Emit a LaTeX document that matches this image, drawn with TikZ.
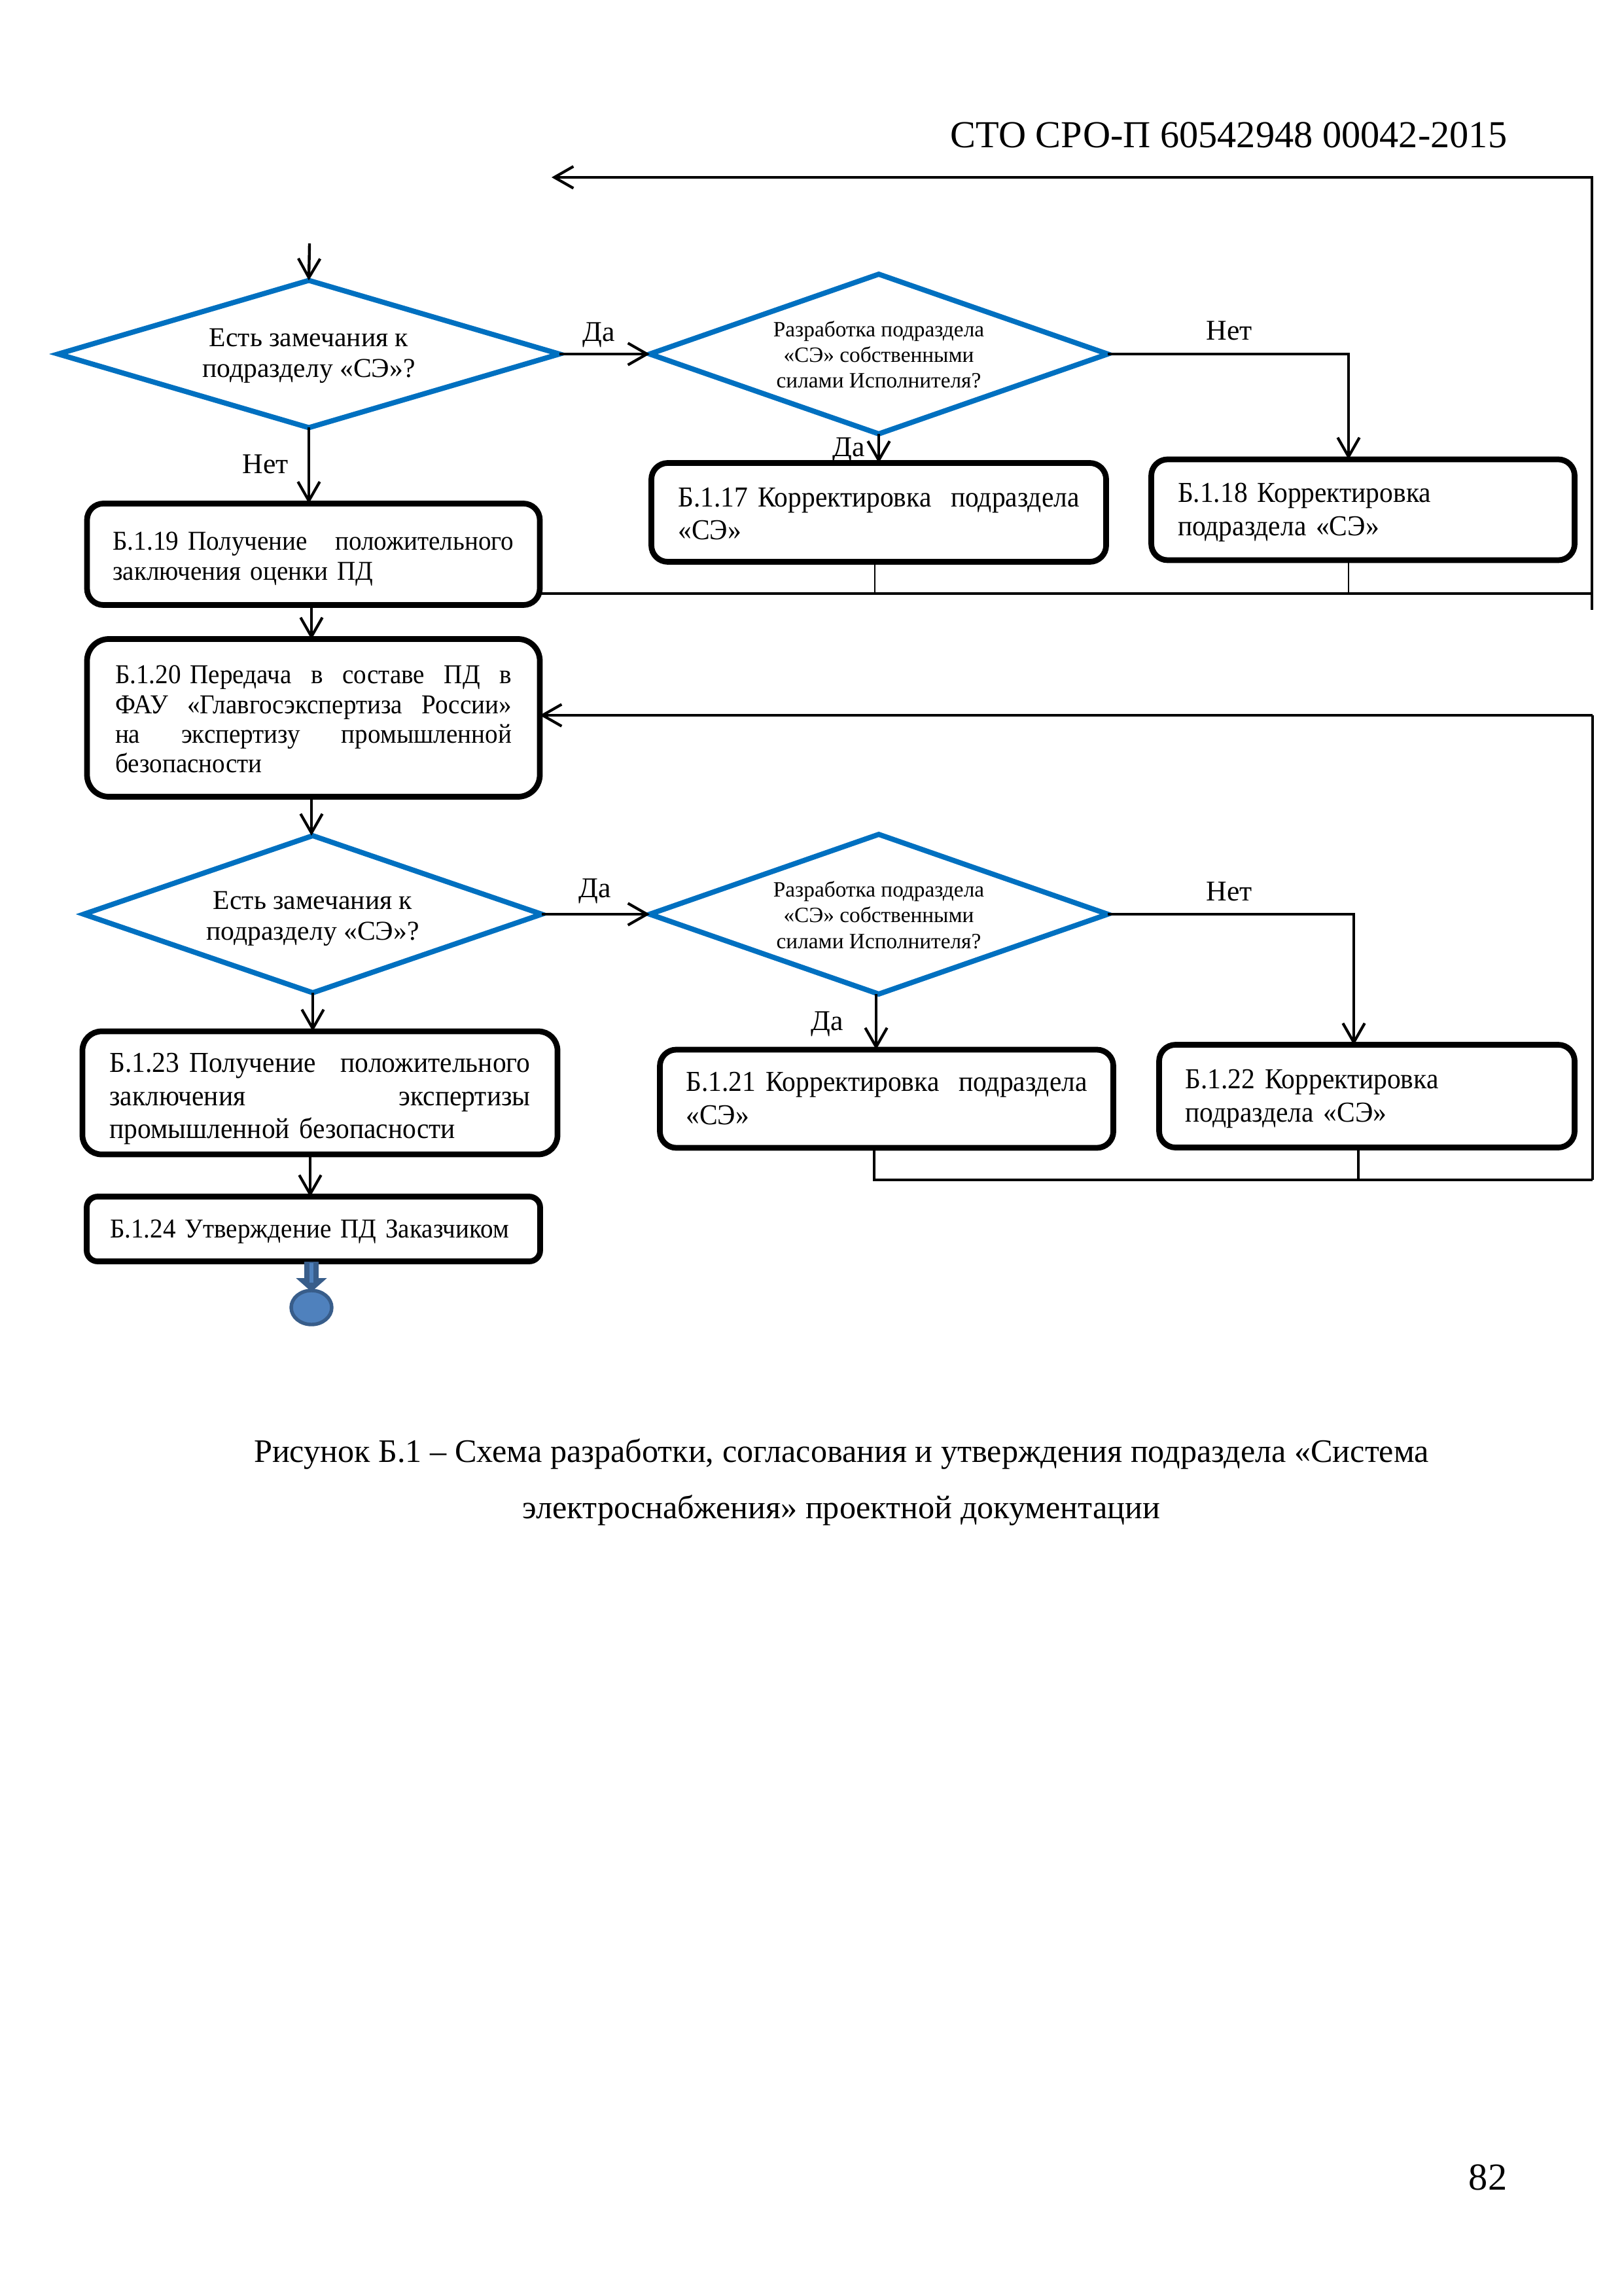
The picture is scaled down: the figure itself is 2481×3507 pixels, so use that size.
\documentclass[tikz,border=0pt]{standalone}
\usepackage{fontspec}
\setmainfont{Liberation Serif}
\newfontfamily\condfont[FakeStretch=0.94]{Liberation Serif}
\usetikzlibrary{shapes.geometric,arrows.meta}
% one stretched line of box text
\newcommand{\jl}[1]{\leavevmode\hbox to\linewidth{#1}}
% box text set a little below the centre of its box
\newcommand{\lowered}[2]{\raisebox{-#1}[\height][\depth]{\parbox{\linewidth}{#2}}}
% text of a decision shape, taking no room so the shape keeps its set size
\newcommand{\dtext}[2][3.2pt]{\makebox[0pt]{\smash{\raisebox{-#1}{\begin{tabular}[c]{@{}c@{}}#2\end{tabular}}}}}
\definecolor{decblue}{HTML}{0070C0}
\definecolor{endfill}{HTML}{4F81BD}
\definecolor{endline}{HTML}{385D8A}
\tikzset{
  barbtip/.tip={Straight Barb[length=7pt,width=8pt,line width=1pt]},
  procbox/.style={draw=black,fill=white,line width=2.1pt,rounded corners=6pt,outer sep=0pt,inner sep=0pt,align=left},
  decision/.style={shape=diamond,draw=decblue,fill=white,line width=1.9pt,outer sep=0pt,inner sep=0pt,align=center},
  conn/.style={draw=black,line width=1.05pt,-barbtip},
  thinline/.style={draw=black,line width=0.6pt},
  midline/.style={draw=black,line width=0.8pt},
  tag/.style={font=\fontsize{10.5}{12}\selectfont,inner sep=0pt},
  bigq/.style={font=\fontsize{10}{11.3}\selectfont},
  small/.style={font=\fontsize{8}{9.4}\selectfont},
  boxten/.style={font=\condfont\fontsize{10}{11.2}\selectfont},
  boxeleven/.style={font=\condfont\fontsize{10.6}{12.2}\selectfont},
  page/.style={font=\fontsize{14}{16}\selectfont,inner sep=0pt},
  capt/.style={font=\fontsize{12.05}{14}\selectfont,inner sep=0pt},
}
\begin{document}
\begin{tikzpicture}[x=0.24pt,y=-0.24pt]
\useasboundingbox (0,0) rectangle (2481,3507);
\fill[white] (0,0) rectangle (2481,3507);

% running head, caption, page number
\node[page,anchor=east] (head) at (2304,206) {СТО СРО-П 60542948 00042-2015};
\node[capt] (cap1) at (1286,2222) {Рисунок Б.1 – Схема разработки, согласования и утверждения подраздела «Система};
\node[capt] (cap2) at (1286,2308) {электроснабжения» проектной документации};
\node[page,anchor=east] (pageno) at (2304,3327) {82};

% branch labels
\node[tag] (da1) at (915,512) {Да};
\node[tag] (net1) at (1879,505) {Нет};
\node[tag] (net2) at (406,709) {Нет};
\node[tag] (da2) at (1297,688) {Да};
\node[tag] (da3) at (909,1362) {Да};
\node[tag] (net3) at (1879,1362) {Нет};
\node[tag] (da4) at (1264,1565) {Да};

% decisions
\node[decision,minimum width=0.24*766pt,minimum height=0.24*225pt,bigq] (d1) at (472,541)
  {\dtext[3.2pt]{Есть замечания к\\подразделу «СЭ»?}};
\node[decision,minimum width=0.24*700pt,minimum height=0.24*244pt,small] (d2) at (1343,541)
  {\dtext{Разработка подраздела\\«СЭ» собственными\\силами Исполнителя?}};
\node[decision,minimum width=0.24*700pt,minimum height=0.24*240pt,bigq] (d3) at (478,1397)
  {\dtext[4.1pt]{Есть замечания к\\подразделу «СЭ»?}};
\node[decision,minimum width=0.24*700pt,minimum height=0.24*244pt,small] (d4) at (1343,1397)
  {\dtext{Разработка подраздела\\«СЭ» собственными\\силами Исполнителя?}};

% process boxes
\node[procbox,boxten,minimum width=0.24*692pt,minimum height=0.24*155pt,text width=0.24*613pt] (b19) at (479,847)
  {\lowered{1.7pt}{\jl{Б.1.19 Получение\hfill положительного}\\заключения оценки ПД}};
\node[procbox,boxten,rounded corners=8pt,minimum width=0.24*692pt,minimum height=0.24*241pt,text width=0.24*606pt,font=\condfont\fontsize{10}{10.9}\selectfont] (b20) at (479,1097)
  {\lowered{0.5pt}{\jl{Б.1.20 Передача\hfill в\hfill составе\hfill ПД\hfill в}\\\jl{ФАУ\hfill «Главгосэкспертиза\hfill России»}\\\jl{на\hfill экспертизу\hfill промышленной}\\безопасности}};
\node[procbox,boxeleven,minimum width=0.24*695pt,minimum height=0.24*151pt,text width=0.24*613pt] (b17) at (1343,783)
  {\lowered{0.5pt}{\jl{Б.1.17 Корректировка\hfill подраздела}\\«СЭ»}};
\node[procbox,boxeleven,minimum width=0.24*647pt,minimum height=0.24*154pt,text width=0.24*566pt] (b18) at (2083,779)
  {\lowered{1pt}{Б.1.18 Корректировка\\подраздела «СЭ»}};
\node[procbox,boxeleven,minimum width=0.24*693pt,minimum height=0.24*150pt,text width=0.24*613pt] (b21) at (1355,1679)
  {\jl{Б.1.21 Корректировка\hfill подраздела}\\«СЭ»};
\node[procbox,boxeleven,minimum width=0.24*635pt,minimum height=0.24*157pt,text width=0.24*555pt] (b22) at (2089,1675)
  {\lowered{1pt}{Б.1.22 Корректировка\\подраздела «СЭ»}};
\node[procbox,boxeleven,rounded corners=7pt,minimum width=0.24*726pt,minimum height=0.24*188pt,text width=0.24*643pt] (b23) at (489,1670)
  {\lowered{2.2pt}{\jl{Б.1.23 Получение\hfill положительного}\\\jl{заключения\hfill экспертизы}\\промышленной безопасности}};
\node[procbox,boxten,rounded corners=4pt,minimum width=0.24*693pt,minimum height=0.24*99pt,text width=0.24*622pt] (b24) at (479,1878)
  {\lowered{1.1pt}{Б.1.24 Утверждение ПД Заказчиком}};

% end mark
\node[ellipse,draw=endline,fill=endfill,line width=1.3pt,minimum width=0.24*62pt,minimum height=0.24*52pt,inner sep=0pt,outer sep=0pt] (finish) at (476,1998) {};
\draw[endline,line width=5.5pt,-{Triangle[length=5pt,width=11pt,fill=endline]},shorten >=0pt]
  (476,1928) -- (476,1974);
\draw[endfill,line width=1.5pt] (476,1930) -- (476,1960);

% free ends of connectors
\coordinate (start) at (473,372);
\coordinate (topret) at (843,271);
\coordinate (topcorner) at (2433,271);
\coordinate (loopa) at (2433,907);
\coordinate (loopaend) at (2433,932);
\coordinate (loopb) at (2434,1093);
\coordinate (loopc) at (2434,1803);
\coordinate (b17foot) at (1337,907);
\coordinate (b18foot) at (2061,907);
\coordinate (b21foot) at (1336,1803);
\coordinate (b22foot) at (2076,1803);
\coordinate (b21entry) at (1339,1519);

% forward connectors
\draw[conn] (start) -- (d1.north);
\draw[conn] (d1.east) -- (d2.west);
\draw[conn] (d1.south) -- (d1.south |- b19.north);
\draw[conn] (476,925) -- (476,977);
\draw[conn] (476,1218) -- (476,1277);
\draw[conn] (d3.east) -- (d4.west);
\draw[conn] (d3.south) -- (d3.south |- b23.north);
\draw[conn] (474,1764) -- (474,1829);
\draw[conn] (d2.south) -- (d2.south |- b17.north);
\draw[conn] (b21entry) -- (b21entry |- b21.north);
\draw[midline,-barbtip] (d2.east) -- (d2.east -| b18foot) -- (b18foot |- b18.north);
\draw[midline,-barbtip] (d4.east) -- (2069,1397) -- (2069,1597);

% return lines
\draw[midline,-barbtip] (loopaend) -- (topcorner) -- (topret);
\draw[midline] (b19.east |- loopa) -- (loopa);
\draw[thinline] (b17foot |- b17.south) -- (b17foot);
\draw[thinline] (b18foot |- b18.south) -- (b18foot);
\draw[midline] (b21foot |- b21.south) -- (b21foot) -- (loopc);
\draw[midline] (b22foot |- b22.south) -- (b22foot);
\draw[midline] (loopc) -- (loopb);
\draw[conn] (loopb) -- (b20.east |- loopb);
\end{tikzpicture}
\end{document}
